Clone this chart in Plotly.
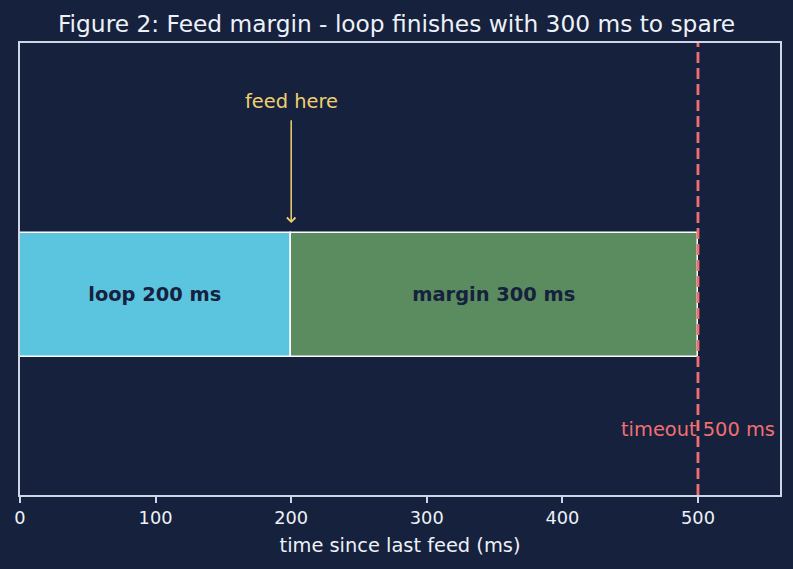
import plotly.graph_objects as go

segments = ["loop 200 ms", "margin 300 ms"]
starts = [0, 200]
durations = [200, 300]
colors = ["#5bc4de", "#5b8c5f"]
feed_at = 200
timeout = 500

BG = "#16213e"
FG = "#eef1f7"
LINE = "#cfd6e6"
FONT = "DejaVu Sans"

fig = go.Figure()
for name, s, d, c in zip(segments, starts, durations, colors):
    fig.add_trace(go.Bar(
        x=[d], y=[0], base=[s], orientation="h", width=0.55,
        marker=dict(color=c, line=dict(color="#ffffff", width=1.5)),
        text=[f"<b>{name}</b>"], textposition="inside", insidetextanchor="middle",
        textfont=dict(color="#16213e", size=19.4, family=FONT),
        hoverinfo="skip", showlegend=False,
    ))

fig.add_shape(type="line", x0=timeout, x1=timeout, y0=0, y1=1, xref="x", yref="paper",
              line=dict(color="#f07070", width=2.8, dash="11px,5px"))

fig.add_annotation(x=feed_at, y=0.318, ax=feed_at, ay=0.78, xref="x", yref="y",
                   axref="x", ayref="y", showarrow=True, arrowhead=4, arrowsize=1.1,
                   arrowwidth=1.5, arrowcolor="#f0d070", text="")
fig.add_annotation(x=feed_at, y=0.855, xref="x", yref="y", text="feed here",
                   showarrow=False, font=dict(color="#f0d070", size=19.4, family=FONT))
fig.add_annotation(x=timeout, y=-0.593, xref="x", yref="y", text="timeout 500 ms",
                   showarrow=False, font=dict(color="#f07070", size=19.4, family=FONT))

fig.update_layout(
    width=793, height=569,
    paper_bgcolor=BG, plot_bgcolor=BG,
    margin=dict(l=20, r=13, t=43, b=74),
    title=dict(text="Figure 2: Feed margin - loop finishes with 300 ms to spare",
               x=0.5, xanchor="center", y=0.958, yanchor="middle",
               font=dict(color=FG, size=23.3, family=FONT)),
    font=dict(family=FONT, color=FG, size=16),
    barmode="overlay",
    bargap=0,
)
fig.update_xaxes(range=[0, 560.5], tickvals=[0, 100, 200, 300, 400, 500],
                 showgrid=False, zeroline=False, showline=True, mirror=True,
                 linecolor=LINE, linewidth=1.5, ticks="outside", tickcolor=LINE,
                 ticklen=6, tickwidth=1.5, tickfont=dict(size=17.8, color=FG),
                 title=dict(text="time since last feed (ms)", font=dict(size=19.4, color=FG), standoff=11))
fig.update_yaxes(range=[-0.885, 1.115], showticklabels=False, showgrid=False, zeroline=False,
                 showline=True, mirror=True, linecolor=LINE, linewidth=1.5, ticks="")

fig.write_html("out.html")
